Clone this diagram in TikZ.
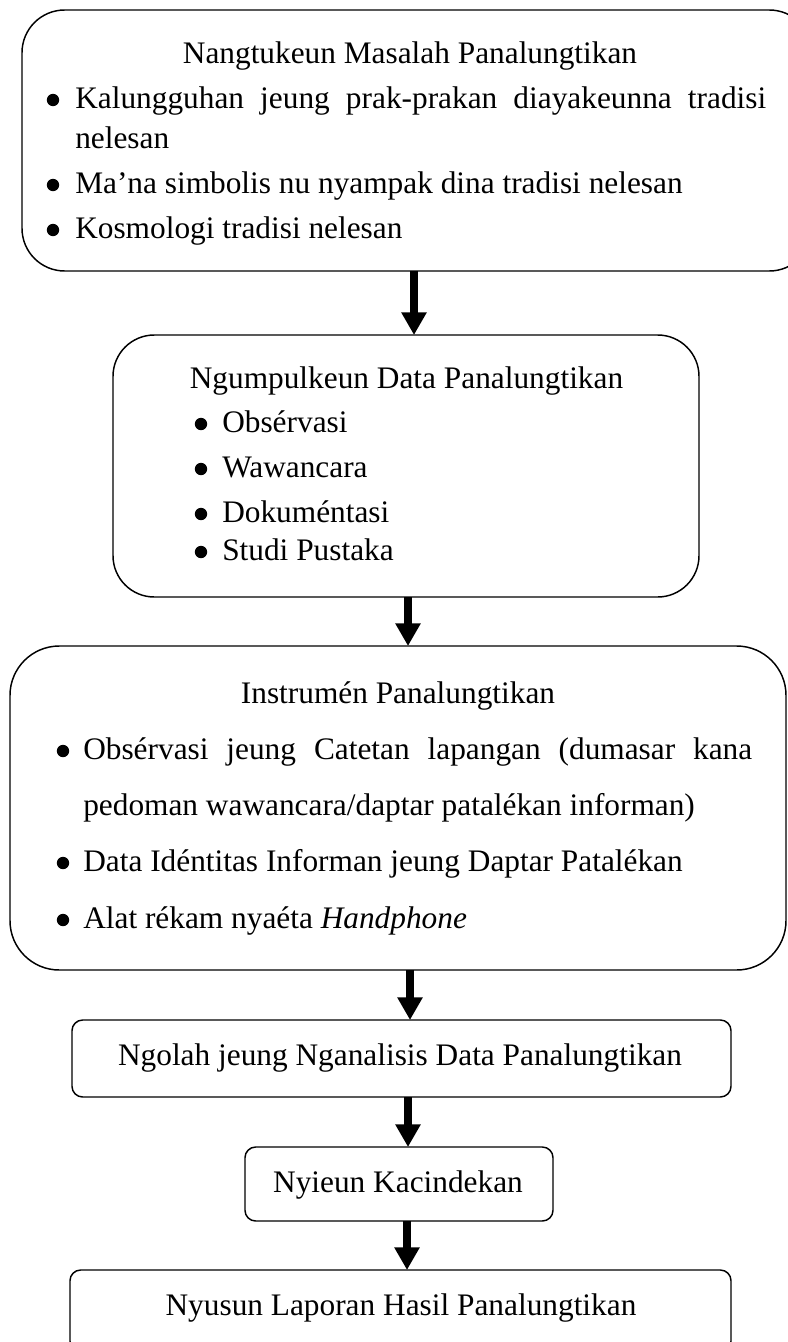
\documentclass[tikz,border=0pt]{standalone}
\usepackage{fontspec}
\setmainfont{Liberation Serif}
\usetikzlibrary{arrows.meta,fit}
\begin{document}
\begin{tikzpicture}[x=0.75pt,y=-0.75pt,
  box/.style={draw, line width=1.1pt, inner sep=0pt, outer sep=0pt, rounded corners=#1},
  lbl/.style={inner sep=0pt, font=\fontsize{23.5}{28}\selectfont},
  ctr/.style={lbl, anchor=base},
  lft/.style={lbl, anchor=base west},
  bul/.style={circle, fill=black, inner sep=0pt, minimum size=9.3pt},
  arr/.style={line width=6pt, -{Triangle[width=18pt,length=17pt]}}]
\useasboundingbox (0,0) rectangle (788,1342);

% boxes
\node[box=32pt, fit={(22,10) (812,271)}] (b1) {};
\node[box=31pt, fit={(113,335) (699,597)}] (b2) {};
\node[box=37pt, fit={(10,646) (786,970)}] (b3) {};
\node[box=8pt, fit={(72,1020) (731,1097)}] (b4) {};
\node[box=8pt, fit={(245,1147) (553,1221)}] (b5) {};
\node[box=8pt, fit={(70,1270) (731,1352)}] (b6) {};

% box 1 text
\node[ctr] (t1) at (410,63) {Nangtukeun Masalah Panalungtikan};
\node[bul] (t1b1) at (53,100) {};
\node[lft] (t1l1) at (75,108) {\makebox[518.25pt][s]{Kalungguhan jeung prak-prakan diayakeunna tradisi}};
\node[lft] (t1l2) at (75,148) {nelesan};
\node[bul] (t1b2) at (53,185) {};
\node[lft] (t1l3) at (75,193) {Ma’na simbolis nu nyampak dina tradisi nelesan};
\node[bul] (t1b3) at (53,230) {};
\node[lft] (t1l4) at (75,238) {Kosmologi tradisi nelesan};

% box 2 text
\node[ctr] (t2) at (406.5,388) {Ngumpulkeun Data Panalungtikan};
\node[bul] (t2b1) at (201,424) {};
\node[lft] (t2l1) at (222,432) {Obsérvasi};
\node[bul] (t2b2) at (201,469) {};
\node[lft] (t2l2) at (222,477) {Wawancara};
\node[bul] (t2b3) at (201,514) {};
\node[lft] (t2l3) at (222,522) {Dokuméntasi};
\node[bul] (t2b4) at (201,552) {};
\node[lft] (t2l4) at (222,560) {Studi Pustaka};

% box 3 text
\node[ctr] (t3) at (398,703) {Instrumén Panalungtikan};
\node[bul] (t3b1) at (63,751) {};
\node[lft] (t3l1) at (83,759) {\makebox[501.75pt][s]{Obsérvasi jeung Catetan lapangan (dumasar kana}};
\node[lft] (t3l2) at (83,815) {pedoman wawancara/daptar patalékan informan)};
\node[bul] (t3b2) at (63,863) {};
\node[lft] (t3l3) at (83,871) {Data Idéntitas Informan jeung Daptar Patalékan};
\node[bul] (t3b3) at (63,920) {};
\node[lft] (t3l4) at (83,928) {Alat rékam nyaéta \textit{Handphone}};

% boxes 4-6 text
\node[ctr] (t4) at (400,1065) {Ngolah jeung Nganalisis Data Panalungtikan};
\node[ctr] (t5) at (398,1192) {Nyieun Kacindekan};
\node[ctr] (t6) at (401,1315) {Nyusun Laporan Hasil Panalungtikan};

% arrows
\coordinate (x1) at (414,0);
\coordinate (x2) at (408,0);
\coordinate (x3) at (410,0);
\coordinate (x4) at (408,0);
\coordinate (x5) at (407,0);
\draw[arr] (b1.south -| x1) -- (b2.north -| x1);
\draw[arr] (b2.south -| x2) -- (b3.north -| x2);
\draw[arr] (b3.south -| x3) -- (b4.north -| x3);
\draw[arr] (b4.south -| x4) -- (b5.north -| x4);
\draw[arr] (b5.south -| x5) -- (b6.north -| x5);
\end{tikzpicture}
\end{document}
